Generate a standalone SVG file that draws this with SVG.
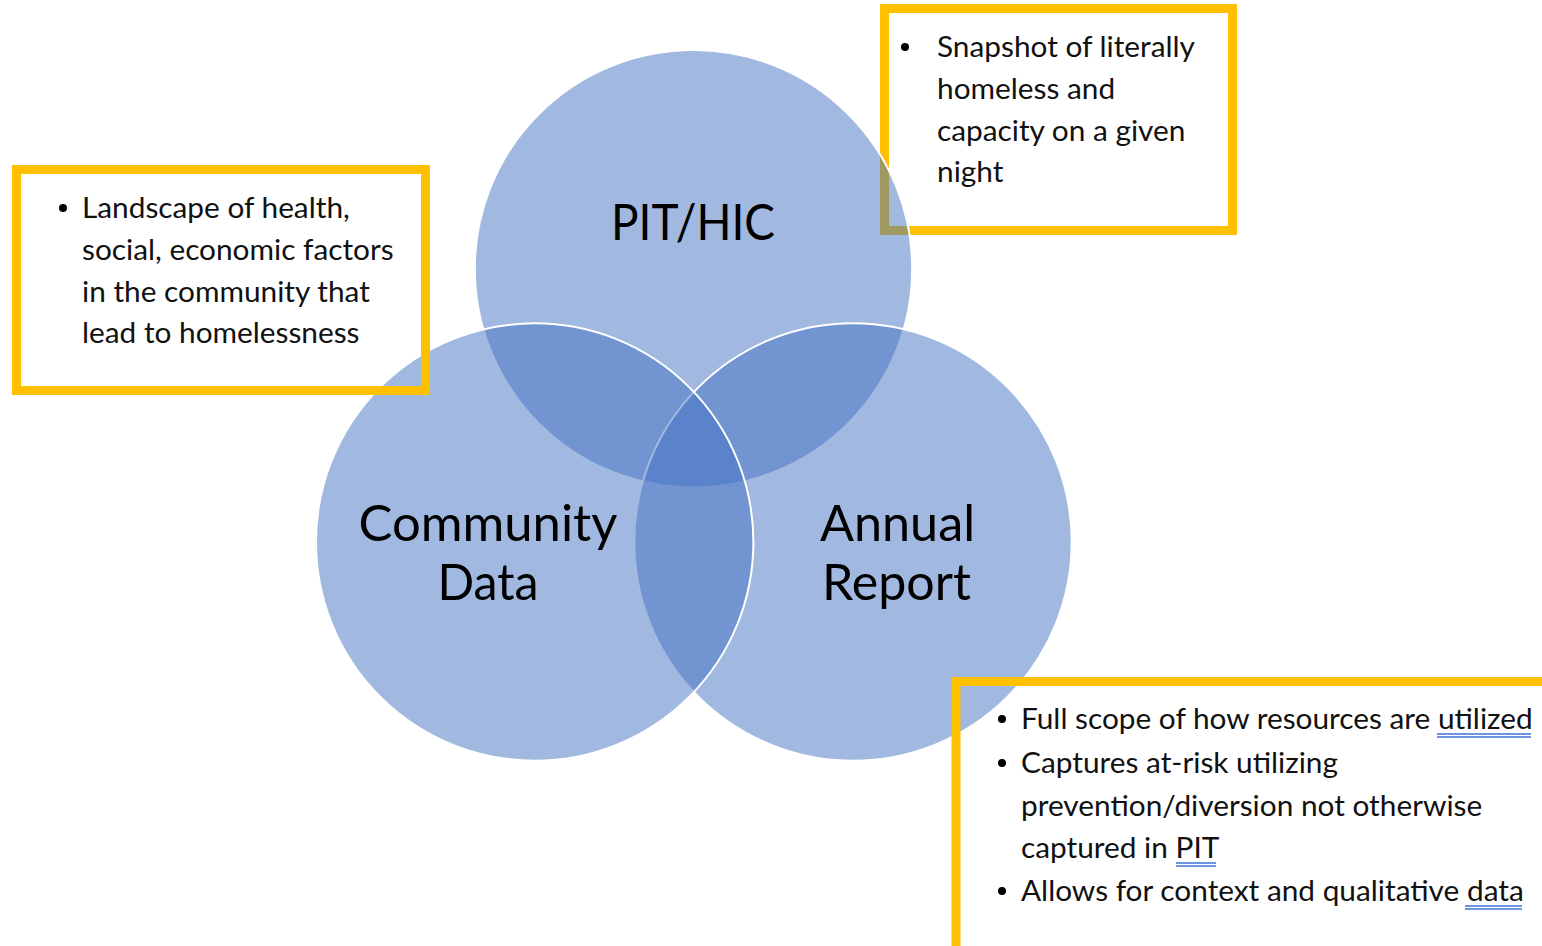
<svg xmlns="http://www.w3.org/2000/svg" width="1542" height="946" viewBox="0 0 1542 946">
<style>
.box{fill:none;stroke:#FFC000;stroke-width:9}
.circ{fill:#4472C4;fill-opacity:0.5;stroke:#FFFFFF;stroke-width:2}
.note{font-family:Lato,"Liberation Sans",sans-serif;font-size:29.8px;fill:#111111}
.lbl{font-family:Lato,"Liberation Sans",sans-serif;font-size:50px;fill:#000000;text-anchor:middle}
.ul{stroke:#3F72D8;stroke-width:1.4}
</style>
<rect width="1542" height="946" fill="#FFFFFF"/>
<g id="box-pit">
<rect x="884.5" y="8.5" width="348" height="222" fill="#FFFFFF" class="box"/>
</g>
<g id="circle-pit">
<circle cx="693.5" cy="268.7" r="218.7" class="circ"/>
</g>
<g id="circle-annual">
<circle cx="853" cy="542" r="218.7" class="circ"/>
</g>
<g id="circle-community">
<circle cx="534.7" cy="542" r="218.7" class="circ"/>
</g>
<g id="label-pit"><text class="lbl" x="693" y="240" textLength="164" lengthAdjust="spacingAndGlyphs">PIT/HIC</text></g>
<g id="label-community"><text class="lbl" x="488" y="541" textLength="259" lengthAdjust="spacingAndGlyphs">Community</text><text class="lbl" x="488" y="600" textLength="101" lengthAdjust="spacingAndGlyphs">Data</text></g>
<g id="label-annual"><text class="lbl" x="897.5" y="541" textLength="155" lengthAdjust="spacingAndGlyphs">Annual</text><text class="lbl" x="896.5" y="600" textLength="149" lengthAdjust="spacingAndGlyphs">Report</text></g>
<g id="box-community">
<rect x="16.5" y="169.5" width="409" height="221" class="box"/>
</g>
<g id="box-annual">
<rect x="956" y="681.5" width="600" height="280" class="box"/>
</g>
<g id="note-pit">
<circle cx="905" cy="47" r="4"/>
<text class="note" x="937" y="57">Snapshot of literally</text>
<text class="note" x="937" y="98.5">homeless and</text>
<text class="note" x="937" y="140.5">capacity on a given</text>
<text class="note" x="937" y="182">night</text>
</g>
<g id="note-community">
<circle cx="63" cy="208" r="4"/>
<text class="note" x="82" y="218">Landscape of health,</text>
<text class="note" x="82" y="259.5">social, economic factors</text>
<text class="note" x="82" y="301.5">in the community that</text>
<text class="note" x="82" y="343">lead to homelessness</text>
</g>
<g id="note-annual">
<circle cx="1002" cy="719" r="4"/>
<circle cx="1002" cy="763" r="4"/>
<circle cx="1002" cy="891" r="4"/>
<text class="note" x="1021" y="729">Full scope of how resources are utilized</text>
<text class="note" x="1021" y="773">Captures at-risk utilizing</text>
<text class="note" x="1021" y="816">prevention/diversion not otherwise</text>
<text class="note" x="1021" y="858">captured in PIT</text>
<text class="note" x="1021" y="901">Allows for context and qualitative data</text>
<line class="ul" x1="1437" y1="734" x2="1531" y2="734"/>
<line class="ul" x1="1437" y1="737" x2="1531" y2="737"/>
<line class="ul" x1="1176" y1="863" x2="1216" y2="863"/>
<line class="ul" x1="1176" y1="866" x2="1216" y2="866"/>
<line class="ul" x1="1465" y1="906" x2="1522" y2="906"/>
<line class="ul" x1="1465" y1="909" x2="1522" y2="909"/>
</g>
</svg>
